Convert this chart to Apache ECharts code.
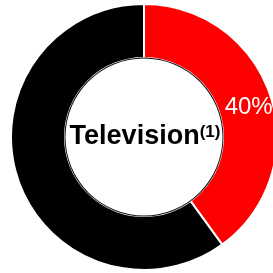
<!DOCTYPE html>
<html>
<head>
<meta charset="utf-8">
<script src="https://cdn.jsdelivr.net/npm/echarts@6/dist/echarts.min.js"></script>
<style>
  html, body { margin: 0; padding: 0; background: #fff; }
  #chart { width: 273px; height: 273px; }
</style>
</head>
<body>
<div id="chart"></div>
<script>
const categories = ['Television', 'Other']
const shares = [40, 60]
const colors = ['#ff0000', '#000000']
const centerLabel = 'Television'
const centerNote = '(1)'

const chart = echarts.init(document.getElementById('chart'))

const option = {
  animation: false,
  graphic: [{
    type: 'text',
    x: 145,
    y: 137,
    z: 10,
    style: {
      text: '{a|' + centerLabel + '}{b|' + centerNote + '}',
      align: 'center',
      verticalAlign: 'middle',
      rich: {
        a: { fontSize: 27, fontWeight: 'bold', fontFamily: 'Liberation Sans', fill: '#000' },
        b: { fontSize: 17, fontWeight: 'bold', fontFamily: 'Liberation Sans', fill: '#000', verticalAlign: 'top' }
      }
    }
  }],
  series: [
    {
      type: 'pie',
      center: [144, 137],
      radius: [79, 133],
      startAngle: 90,
      clockwise: true,
      silent: true,
      itemStyle: { borderColor: '#fff', borderWidth: 2 },
      label: {
        show: true,
        position: 'inside',
        formatter: '{c}%',
        color: '#fff',
        fontSize: 24,
        fontFamily: 'Liberation Sans'
      },
      labelLayout: { dx: 1, dy: 4 },
      labelLine: { show: false },
      data: categories.map((c, i) => ({
        name: c,
        value: shares[i],
        itemStyle: { color: colors[i] },
        label: { show: i === 0 }
      }))
    },
    {
      // thin dark outline around the hole
      type: 'pie',
      center: [144, 137],
      radius: [78.5, 79.5],
      silent: true,
      label: { show: false },
      labelLine: { show: false },
      itemStyle: { color: '#111' },
      data: [{ name: 'edge', value: 1 }]
    }
  ]
}

chart.setOption(option)
</script>
</body>
</html>
